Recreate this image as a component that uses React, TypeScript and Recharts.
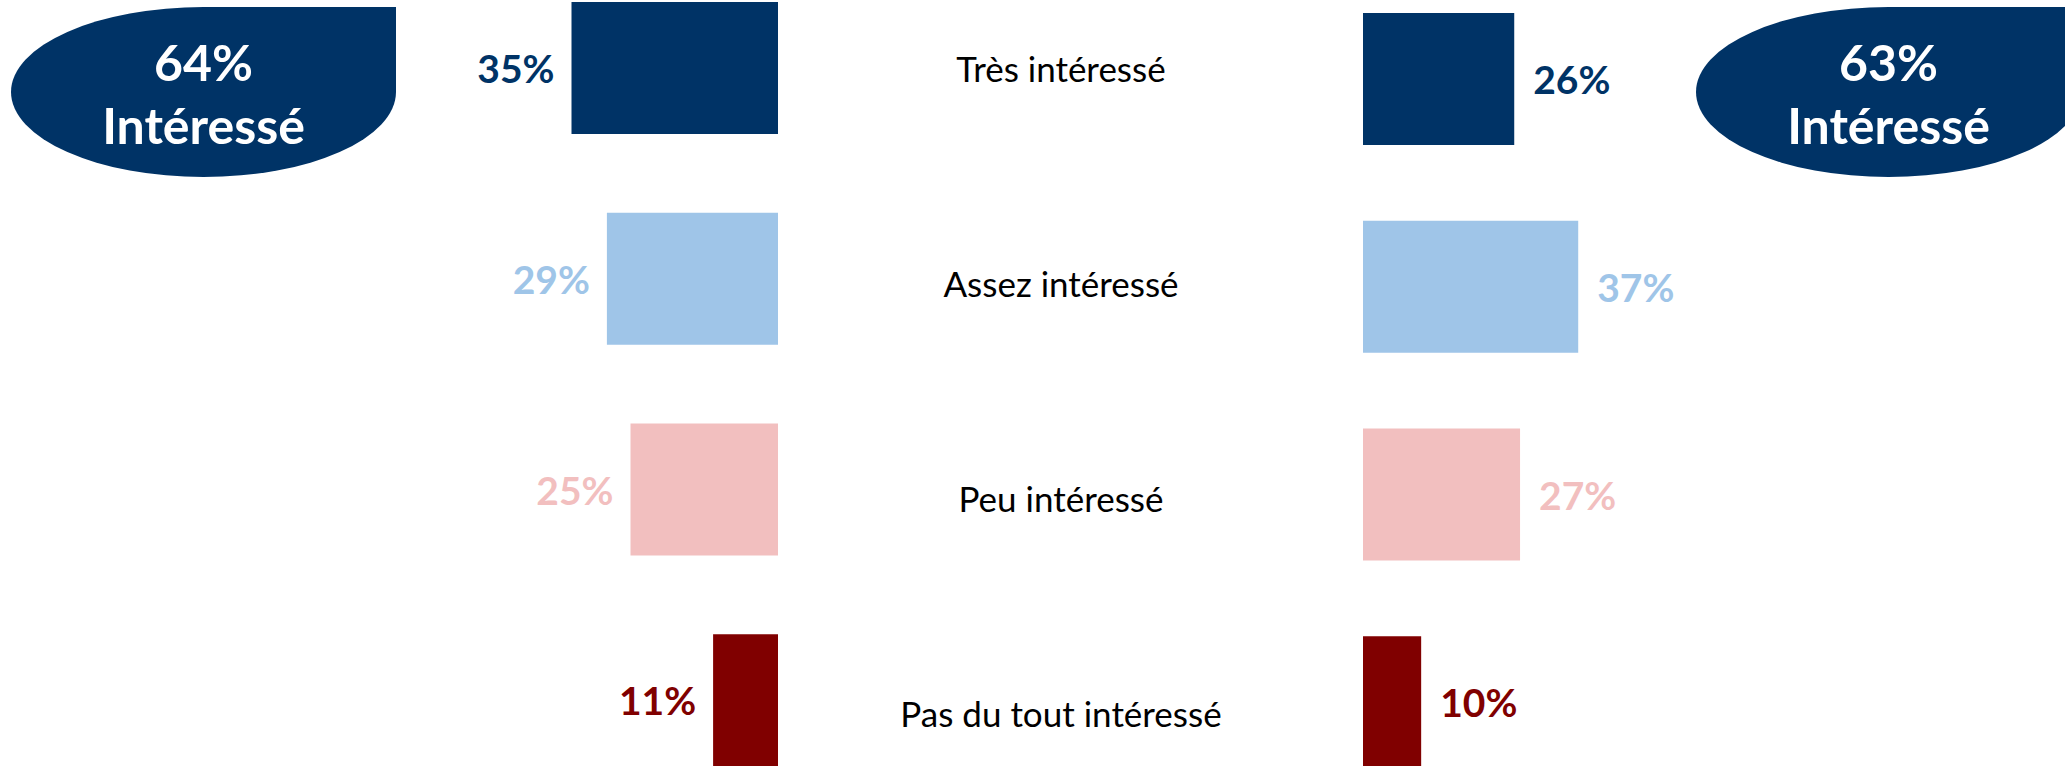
import React from "react";
import { BarChart, Bar, XAxis, YAxis, LabelList, Cell } from "recharts";

const categories = [
  "Très intéressé",
  "Assez intéressé",
  "Peu intéressé",
  "Pas du tout intéressé",
];
const leftValues = [35, 29, 25, 11];
const rightValues = [26, 37, 27, 10];
const barColors = ["#003366", "#9FC5E8", "#F2BFBF", "#800000"];
const summaryLabel = "Intéressé";

const FONT = "Lato, 'Open Sans', sans-serif";

const leftData = categories.map((category, i) => ({ category, value: leftValues[i] }));
const rightData = categories.map((category, i) => ({ category, value: rightValues[i] }));

// total of the two "interested" answers
const leftTotal = leftValues[0] + leftValues[1];
const rightTotal = rightValues[0] + rightValues[1];

const makeValueLabel = (side: "left" | "right", values: number[]) => (props: any) => {
  const { x, y, width, height, value } = props;
  const idx = props.index ?? values.indexOf(Number(value));
  const x0 = Number(x);
  const w = Number(width);
  const left = Math.min(x0, x0 + w);
  const right = Math.max(x0, x0 + w);
  return (
    <text
      x={side === "left" ? left - 17 : right + 19}
      y={Number(y) + Number(height) / 2}
      textAnchor={side === "left" ? "end" : "start"}
      dominantBaseline="central"
      fill={barColors[idx]}
      fontSize={39}
      fontWeight={700}
      fontFamily={FONT}
    >
      {value}%
    </text>
  );
};

const CategoryTick = (props: any) => {
  const { y, payload } = props;
  return (
    <text
      x={210}
      y={y}
      textAnchor="middle"
      dominantBaseline="central"
      fill="#000"
      fontSize={35}
      fontFamily={FONT}
    >
      {payload.value}
    </text>
  );
};

const Bubble = ({ left, total }: { left: number; total: number }) => (
  <div
    style={{
      position: "absolute",
      left,
      top: 7,
      width: 385,
      height: 170,
      background: "#003366",
      borderRadius: "50% 0 50% 50%",
      color: "#fff",
      fontFamily: FONT,
      fontWeight: 700,
      fontSize: 50,
      lineHeight: "63px",
      display: "flex",
      flexDirection: "column",
      alignItems: "center",
      justifyContent: "center",
      paddingTop: 3,
      boxSizing: "border-box",
    }}
  >
    <div>{total}%</div>
    <div>{summaryLabel}</div>
  </div>
);

export default function App() {
  return (
    <div
      style={{
        position: "absolute",
        left: 0,
        top: 0,
        width: 2065,
        height: 766,
        overflow: "hidden",
        background: "#fff",
      }}
    >
      <Bubble left={11} total={leftTotal} />
      <Bubble left={1696} total={rightTotal} />

      {/* left group: bars grow toward the left */}
      <div style={{ position: "absolute", left: 424, top: -37 }}>
        <BarChart
          width={354}
          height={843}
          data={leftData}
          layout="vertical"
          margin={{ top: 0, right: 0, bottom: 0, left: 0 }}
        >
          <XAxis type="number" domain={[0, 60]} reversed hide />
          <YAxis type="category" dataKey="category" hide />
          <Bar dataKey="value" barSize={132} isAnimationActive={false}>
            {leftData.map((d, i) => (
              <Cell key={d.category} fill={barColors[i]} />
            ))}
            <LabelList dataKey="value" content={makeValueLabel("left", leftValues)} />
          </Bar>
        </BarChart>
      </div>

      {/* category names in the middle */}
      <div style={{ position: "absolute", left: 851, top: -39 }}>
        <BarChart
          width={440}
          height={859}
          data={leftData}
          layout="vertical"
          margin={{ top: 0, right: 0, bottom: 0, left: 0 }}
        >
          <XAxis type="number" domain={[0, 60]} hide />
          <YAxis
            type="category"
            dataKey="category"
            width={420}
            axisLine={false}
            tickLine={false}
            tick={<CategoryTick />}
            interval={0}
          />
        </BarChart>
      </div>

      {/* right group: bars grow toward the right */}
      <div style={{ position: "absolute", left: 1363, top: -25 }}>
        <BarChart
          width={349}
          height={831}
          data={rightData}
          layout="vertical"
          margin={{ top: 0, right: 0, bottom: 0, left: 0 }}
        >
          <XAxis type="number" domain={[0, 60]} hide />
          <YAxis type="category" dataKey="category" hide />
          <Bar dataKey="value" barSize={132} isAnimationActive={false}>
            {rightData.map((d, i) => (
              <Cell key={d.category} fill={barColors[i]} />
            ))}
            <LabelList dataKey="value" content={makeValueLabel("right", rightValues)} />
          </Bar>
        </BarChart>
      </div>
    </div>
  );
}
